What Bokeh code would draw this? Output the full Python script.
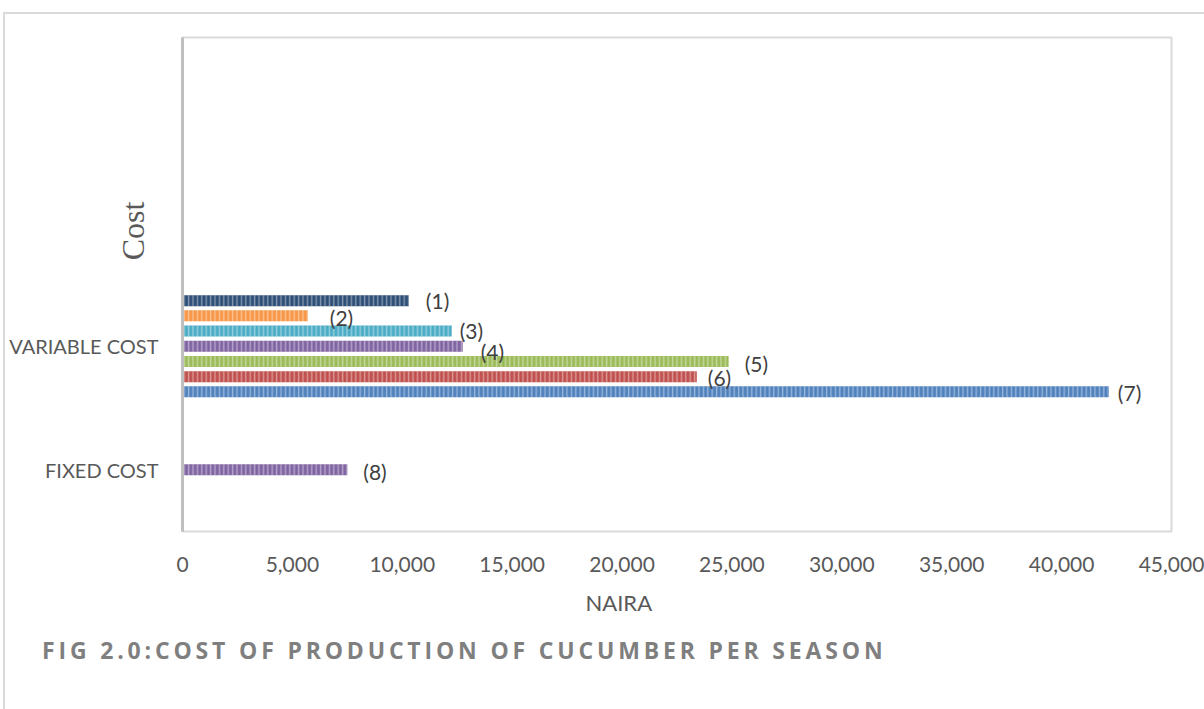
from bokeh.plotting import figure
from bokeh.models import Range1d, Div, FixedTicker, NumeralTickFormatter, ColumnDataSource, Title
from bokeh.layouts import column
from bokeh.core.properties import value
from bokeh.embed import file_html
from bokeh.resources import INLINE

# ---- data ----
categories = ["FIXED COST", "VARIABLE COST"]
variable_items = ["(1)", "(2)", "(3)", "(4)", "(5)", "(6)", "(7)"]
variable_values = [10300, 5700, 12250, 12750, 24850, 23400, 42150]
fixed_items = ["(8)"]
fixed_values = [7500]
x_ticks = [0, 5000, 10000, 15000, 20000, 25000, 30000, 35000, 40000, 45000]

# ---- styles ----
variable_colors = ["#2C4D75", "#F79646", "#4BACC6", "#8064A2", "#9BBB59", "#C0504D", "#4F81BD"]
fixed_colors = ["#8064A2"]
variable_label_dx = [17, 22, 8, 18, 16, 11, 9]
variable_label_dy = [0, 2, -1, 5, 2, 1, 1]
fixed_label_dx = [16]
fixed_label_dy = [2]

n_slots = 4          # category axis holds 4 slots, upper two are empty
slot = 0.123         # spacing between clustered bars (category units)
bar_h = 0.089

var_y = [categories.index("VARIABLE COST") + 0.5 + (3 - i) * slot for i in range(len(variable_values))]
fix_y = [categories.index("FIXED COST") + 0.5 for _ in fixed_values]

bars = ColumnDataSource(dict(
    x=variable_values + fixed_values,
    y=var_y + fix_y,
    color=variable_colors + fixed_colors,
    label=variable_items + fixed_items,
    dx=variable_label_dx + fixed_label_dx,
    dy=variable_label_dy + fixed_label_dy,
))

p = figure(width=1199, height=621, output_backend="svg", toolbar_location=None,
           x_range=Range1d(0, 45000), y_range=Range1d(0, n_slots),
           min_border_left=177, min_border_right=33, min_border_top=23, min_border_bottom=104)
p.background_fill_color = "white"
p.border_fill_color = "white"
p.outline_line_color = "#D9D9D9"
p.outline_line_width = 2
p.xgrid.visible = False
p.ygrid.visible = False

p.hbar(y="y", right="x", left=0, height=bar_h, source=bars,
       fill_color="color", line_color=None,
       hatch_pattern="vertical_line", hatch_color="white", hatch_alpha=0.4,
       hatch_scale=4.4, hatch_weight=1.5)

p.text(x="x", y="y", text="label", x_offset="dx", y_offset="dy", source=bars,
       text_font=value("Lato"), text_font_size="21px", text_color="#404040",
       text_baseline="middle", text_align="left")

# x axis
xa = p.xaxis[0]
xa.ticker = FixedTicker(ticks=x_ticks)
xa.formatter = NumeralTickFormatter(format="0,0")
xa.axis_line_color = None
xa.major_tick_line_color = None
xa.minor_tick_line_color = None
xa.major_tick_out = 0
xa.major_label_standoff = 25
xa.major_label_text_font = "Lato"
xa.major_label_text_font_size = "21px"
xa.major_label_text_color = "#595959"

# y axis
ya = p.yaxis[0]
ya.ticker = FixedTicker(ticks=[i + 0.5 for i in range(len(categories))])
ya.major_label_overrides = {i + 0.5: c for i, c in enumerate(categories)}
ya.axis_line_color = "#BFBFBF"
ya.axis_line_width = 3
ya.major_tick_line_color = None
ya.minor_tick_line_color = None
ya.major_tick_out = 0
ya.major_label_standoff = 24
ya.major_label_text_font = "Lato"
ya.major_label_text_font_size = "20px"
ya.major_label_text_color = "#595959"

p.add_layout(Title(text="NAIRA", align="left", offset=403, standoff=24,
                   text_font="Lato", text_font_size="22px", text_font_style="normal",
                   text_color="#595959"), "below")

cost = Div(text="Cost", width=80, height=80, margin=(-444, 0, 0, 88),
           styles={"font-family": "Liberation Serif", "font-size": "32px", "color": "#595959",
                   "line-height": "80px", "text-align": "center", "transform": "rotate(-90deg)"})

cap = Div(text="FIG 2.0:COST OF PRODUCTION OF CUCUMBER PER SEASON", width=1150, height=80,
          margin=(364, 0, 0, 37),
          styles={"font-family": "Open Sans", "font-weight": "bold", "font-size": "23px",
                  "letter-spacing": "3.83px", "color": "#7F7F7F", "line-height": "30px",
                  "white-space": "nowrap"})

layout = column(p, cost, cap, margin=(12, 0, 0, 3), spacing=0,
                styles={"border-top": "2px solid #D9D9D9", "border-left": "2px solid #D9D9D9",
                        "background": "white"})

open("out.html", "w").write(file_html(layout, INLINE))
